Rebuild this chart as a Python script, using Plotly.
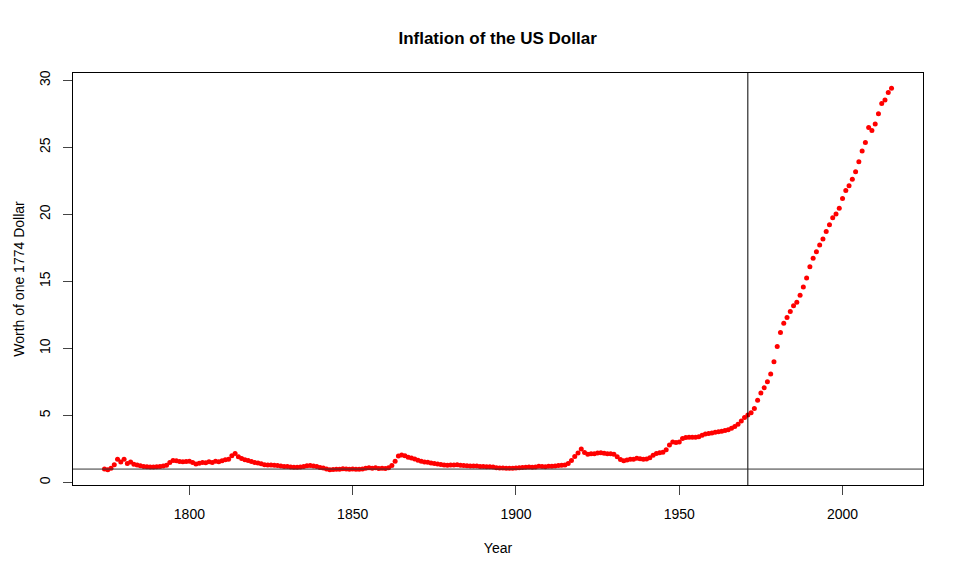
import plotly.graph_objects as go

# worth of one 1774 dollar
years = list(range(1774, 2016))

worth = [
    # 1774-1799
    1.00, 0.95, 1.07, 1.32, 1.74, 1.52, 1.74, 1.42, 1.52, 1.36,
    1.30, 1.24, 1.19, 1.18, 1.16, 1.16, 1.18, 1.19, 1.22, 1.29,
    1.49, 1.64, 1.62, 1.57, 1.54, 1.57,
    # 1800-1849
    1.59, 1.49, 1.37, 1.44, 1.49, 1.47, 1.54, 1.49, 1.59, 1.54,
    1.62, 1.69, 1.74, 1.99, 2.17, 1.92, 1.78, 1.69, 1.64, 1.57,
    1.49, 1.45, 1.39, 1.32, 1.30, 1.30, 1.29, 1.27, 1.22, 1.20,
    1.19, 1.15, 1.14, 1.13, 1.15, 1.19, 1.24, 1.26, 1.22, 1.20,
    1.12, 1.08, 1.00, 0.95, 0.97, 0.98, 0.99, 1.03, 1.00, 0.99,
    # 1850-1899
    1.00, 0.99, 0.99, 1.00, 1.06, 1.09, 1.07, 1.09, 1.05, 1.06,
    1.05, 1.10, 1.27, 1.58, 1.97, 2.05, 1.99, 1.89, 1.82, 1.75,
    1.66, 1.58, 1.53, 1.50, 1.45, 1.41, 1.37, 1.34, 1.30, 1.28,
    1.30, 1.31, 1.32, 1.29, 1.26, 1.24, 1.22, 1.22, 1.22, 1.20,
    1.19, 1.18, 1.17, 1.16, 1.10, 1.08, 1.08, 1.06, 1.06, 1.07,
    # 1900-1949
    1.08, 1.09, 1.11, 1.14, 1.15, 1.14, 1.16, 1.21, 1.19, 1.17,
    1.21, 1.21, 1.23, 1.26, 1.28, 1.30, 1.42, 1.64, 1.94, 2.20,
    2.50, 2.24, 2.10, 2.14, 2.15, 2.20, 2.22, 2.18, 2.15, 2.15,
    2.10, 1.91, 1.72, 1.63, 1.68, 1.73, 1.74, 1.80, 1.77, 1.74,
    1.76, 1.84, 2.04, 2.17, 2.21, 2.26, 2.45, 2.80, 3.02, 2.98,
    # 1950-1999
    3.02, 3.28, 3.35, 3.37, 3.38, 3.37, 3.42, 3.53, 3.62, 3.65,
    3.70, 3.74, 3.78, 3.82, 3.87, 3.93, 4.05, 4.17, 4.35, 4.58,
    4.85, 5.04, 5.20, 5.52, 6.13, 6.68, 7.07, 7.52, 8.10, 9.00,
    10.15, 11.18, 11.88, 12.30, 12.75, 13.19, 13.44, 13.96, 14.58, 15.25,
    16.10, 16.72, 17.22, 17.71, 18.16, 18.73, 19.23, 19.75, 20.02, 20.45,
    # 2000-2015
    21.19, 21.79, 22.13, 22.63, 23.18, 23.92, 24.72, 25.36, 26.49, 26.26,
    26.75, 27.50, 28.27, 28.54, 29.10, 29.41,
]

x_ticks = [1800, 1850, 1900, 1950, 2000]
y_ticks = [0, 5, 10, 15, 20, 25, 30]

marker_year = 1971
base_worth = 1


def r_range(vals):
    # base R pads the data range by 4% each side
    lo, hi = min(vals), max(vals)
    pad = 0.04 * (hi - lo)
    return [lo - pad, hi + pad]


FONT = "Liberation Sans, Arial, Helvetica, sans-serif"

fig = go.Figure()
fig.add_trace(
    go.Scatter(
        x=years,
        y=worth,
        mode="markers",
        marker=dict(color="red", size=5, line=dict(width=0)),
        showlegend=False,
        hoverinfo="x+y",
    )
)

fig.add_vline(x=marker_year, line=dict(color="black", width=1))
fig.add_hline(y=base_worth, line=dict(color="#333333", width=1))

axis_common = dict(
    showgrid=False,
    zeroline=False,
    showline=True,
    mirror=True,
    linecolor="black",
    linewidth=1,
    ticks="outside",
    ticklen=9,
    tickwidth=1,
    tickcolor="#444444",
    tickfont=dict(family=FONT, size=14, color="black"),
    title_font=dict(family=FONT, size=14, color="black"),
    automargin=False,
)

fig.update_xaxes(
    range=r_range(years),
    tickvals=x_ticks,
    title_text="Year",
    title_standoff=22,
    ticklabelstandoff=7,
    **axis_common,
)
fig.update_yaxes(
    range=r_range(worth),
    tickvals=y_ticks,
    tickangle=-90,
    title_text="Worth of one 1774 Dollar",
    title_standoff=9,
    ticklabelstandoff=7,
    **axis_common,
)

# page body adds ~8px offset, so margins are shifted to compensate
fig.update_layout(
    width=960,
    height=576,
    margin=dict(l=65, r=45, t=65, b=99),
    paper_bgcolor="white",
    plot_bgcolor="white",
    title=dict(
        text="<b>Inflation of the US Dollar</b>",
        x=0.51,
        xanchor="center",
        y=1 - 30 / 576,
        yanchor="middle",
        yref="container",
        font=dict(family=FONT, size=17, color="black"),
    ),
)

fig.write_html("out.html")
